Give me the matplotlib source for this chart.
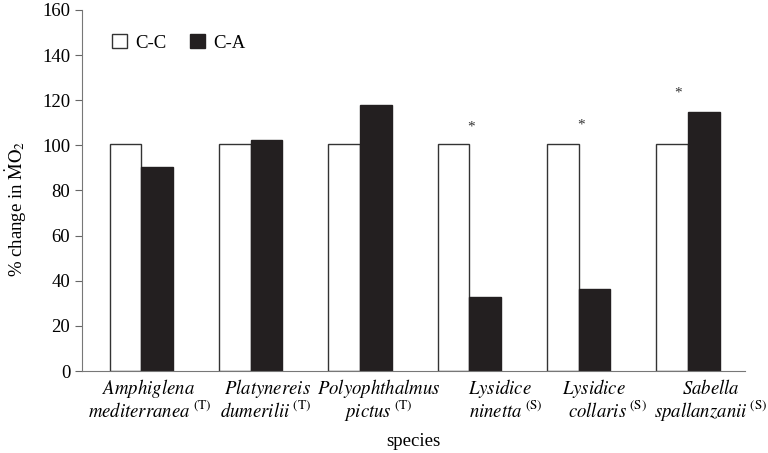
import matplotlib
matplotlib.use("Agg")
import matplotlib.pyplot as plt
import matplotlib.transforms as mtransforms
import numpy as np

plt.rcParams['font.family'] = ['Liberation Serif', 'DejaVu Serif']
plt.rcParams['mathtext.fontset'] = 'stix'

genus = ['Amphiglena', 'Platynereis', 'Polyophthalmus', 'Lysidice', 'Lysidice', 'Sabella']
epithet = ['mediterranea', 'dumerilii', 'pictus', 'ninetta', 'collaris', 'spallanzanii']
habitat = ['T', 'T', 'T', 'S', 'S', 'S']
cc_vals = [100.5, 100.5, 100.5, 100.5, 100.5, 100.5]
ca_vals = [90.5, 102.5, 118, 33, 36.5, 115]
# significance marks: (group index, height)
stars = [(3, 108), (4, 109), (5, 123)]

# label line offsets from the group centre (as in the original layout)
off1 = [0.064, 0.15, 0.17, 0.28, 0.14, 0.21]
off2 = [0.073, 0.14, 0.17, 0.33, 0.26, 0.21]

fig = plt.figure(figsize=(7.68, 4.53), dpi=100)
ax = fig.add_axes([0.107, 0.181, 0.863, 0.797])

x = np.arange(len(genus))
w = 0.29
ax.bar(x - w / 2, cc_vals, w, color='white', edgecolor='#333333', linewidth=1, label='C-C')
ax.bar(x + w / 2, ca_vals, w, color='#231f20', edgecolor='#231f20', linewidth=1, label='C-A')

for i, h in stars:
    off = -0.09 if i == 5 else 0.02
    ax.text(i + off, h, '*', ha='center', va='center', fontsize=11, color='#333333')

ax.set_xlim(-0.54, 5.52)
ax.set_ylim(0, 160)
ax.set_yticks(np.arange(0, 161, 20))
ax.set_xticks([])
ax.tick_params(axis='y', labelsize=13.5, length=5, color='#666666')
for s in ['top', 'right']:
    ax.spines[s].set_visible(False)
for s in ['left', 'bottom']:
    ax.spines[s].set_color('#777777')

# two-line italic species labels with habitat superscript
trans = mtransforms.blended_transform_factory(ax.transData, ax.transAxes)
for i in range(len(genus)):
    ax.text(i + off1[i], -0.063, r'$\mathit{%s}$' % genus[i], transform=trans,
            ha='center', va='baseline', fontsize=13.5, clip_on=False)
    ax.text(i + off2[i], -0.128, r'$\mathit{%s}\;^{\rm (%s)}$' % (epithet[i], habitat[i]),
            transform=trans, ha='center', va='baseline', fontsize=13.5, clip_on=False)

ax.set_ylabel(r'% change in $\dot{\mathrm{M}}\mathrm{O}_2$', fontsize=13.5, va='center')
ax.yaxis.set_label_coords(-0.099, 0.45)
ax.set_xlabel('species', fontsize=13.5, va='center')
ax.xaxis.set_label_coords(0.5, -0.195)

ax.legend(loc='upper left', bbox_to_anchor=(0.02, 0.98), ncol=2, frameon=False,
          fontsize=13.5, handlelength=0.8, handleheight=0.8, columnspacing=1.3,
          handletextpad=0.4)

fig.savefig('out.png', dpi=100)
